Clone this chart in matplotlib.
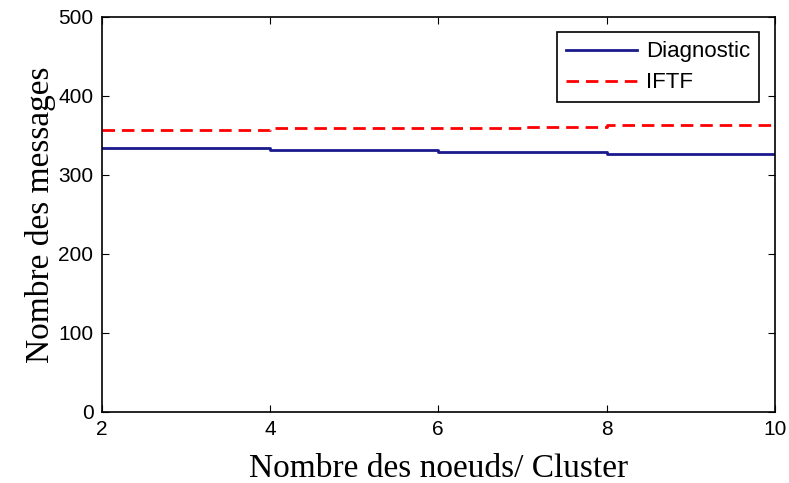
import matplotlib.pyplot as plt

# Data (values at each node count)
noeuds = [2, 3, 4, 5, 6, 7, 8, 9, 10]
diagnostic = [334, 334, 331, 331, 329, 329, 327, 327, 327]
iftf = [357, 357, 359, 359, 359, 361, 363, 363, 363]

fig = plt.figure(figsize=(7.89, 4.83), dpi=100)
ax = fig.add_axes([0.129, 0.147, 0.853, 0.818])

ax.plot(noeuds, diagnostic, color='#1a1a8c', lw=2, drawstyle='steps-post', label='Diagnostic')
ax.plot(noeuds, iftf, color='red', lw=2, ls='--', dashes=(4.5, 2.5), drawstyle='steps-post', label='IFTF')

ax.set_xlim(2, 10)
ax.set_ylim(0, 500)
ax.set_xticks([2, 4, 6, 8, 10])
ax.set_yticks([0, 100, 200, 300, 400, 500])
ax.tick_params(direction='in', length=5, top=True, right=True, labelsize=15, pad=6)
for lab in ax.get_xticklabels() + ax.get_yticklabels():
    lab.set_family('Liberation Sans')
for s in ax.spines.values():
    s.set_linewidth(1.2)

ax.set_xlabel('Nombre des noeuds/ Cluster', family='Liberation Serif', fontsize=24, labelpad=10)
ax.set_ylabel('Nombre des messages', family='Liberation Serif', fontsize=24, labelpad=2)

leg = ax.legend(loc='upper right', prop={'family': 'Liberation Sans', 'size': 16},
                fancybox=False, edgecolor='black', framealpha=1, borderaxespad=0.7,
                handlelength=3.2, handletextpad=0.4, labelspacing=0.45, borderpad=0.4)
leg.get_frame().set_linewidth(1.2)

fig.savefig('out.png', dpi=100)
